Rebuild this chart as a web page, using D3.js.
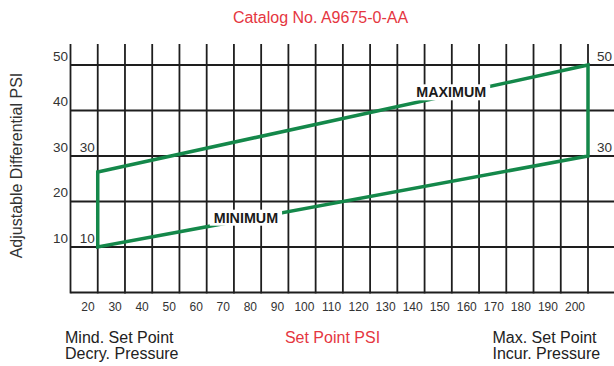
<!DOCTYPE html>
<html>
<head>
<meta charset="utf-8">
<script src="https://cdn.jsdelivr.net/npm/d3@7"></script>
<style>
  body { margin: 0; background: #fff; }
  svg { display: block; font-family: "Liberation Sans", Arial, sans-serif; }
</style>
</head>
<body>
<div id="container"></div>
<script>
// data
const xTicks = [20, 30, 40, 50, 60, 70, 80, 90, 100, 110, 120, 130, 140, 150, 160, 170, 180, 190, 200];
const yTicks = [0, 10, 20, 30, 40, 50];
const yLabels = [10, 20, 30, 40, 50];

// boundary of the adjustable range (set point psi, differential psi)
const maxLine = [[20, 26.5], [200, 50]];
const minLine = [[20, 10], [200, 30]];

const w = 614;
const h = 366;
const green = "#14884a";
const red = "#e5363f";
const ink = "#1e1e1e";

let viz = d3.select("#container")
  .append("svg")
    .attr("width", w)
    .attr("height", h);

let xScale = d3.scaleLinear().domain([10, 200]).range([70.5, 588]);
let yScale = d3.scaleLinear().domain([0, 50]).range([292.5, 65]);
// the printed tick numbers sit a little left of their grid lines
let labelScale = d3.scaleLinear().domain([20, 200]).range([88, 575]);

// title
viz.append("text")
  .attr("x", 320.5).attr("y", 22.5)
  .attr("text-anchor", "middle")
  .attr("font-size", 16)
  .attr("fill", red)
  .text("Catalog No. A9675-0-AA");

// vertical grid lines (they poke up above the 50 line)
let grid = viz.append("g").attr("stroke", ink).attr("stroke-width", 1.8);
grid.selectAll(".vline")
  .data([10].concat(xTicks))
  .enter().append("line")
    .attr("x1", d => xScale(d)).attr("x2", d => xScale(d))
    .attr("y1", 44).attr("y2", yScale(0) + 0.9);

grid.selectAll(".hline")
  .data(yTicks)
  .enter().append("line")
    .attr("x1", xScale(10)).attr("x2", w)
    .attr("y1", d => yScale(d)).attr("y2", d => yScale(d));

// y labels, left of the frame
let lab = viz.append("g").attr("font-size", 13.5).attr("fill", "#333");
lab.selectAll(".yl")
  .data(yLabels)
  .enter().append("text")
    .attr("x", xScale(10) - 2.5)
    .attr("y", d => yScale(d) - 4.3)
    .attr("text-anchor", "end")
    .text(d => d);

// corner values of the range
let corners = [
  {x: xScale(20) - 3, y: yScale(30) - 4.3, t: "30", a: "end"},
  {x: xScale(20) - 3, y: yScale(10) - 4.3, t: "10", a: "end"},
  {x: xScale(200) + 9, y: yScale(50) - 4.3, t: "50", a: "start"},
  {x: xScale(200) + 9, y: yScale(30) - 4.3, t: "30", a: "start"}
];
lab.selectAll(".cl")
  .data(corners)
  .enter().append("text")
    .attr("x", d => d.x).attr("y", d => d.y)
    .attr("text-anchor", d => d.a)
    .text(d => d.t);

// x tick labels
viz.append("g").attr("font-size", 12).attr("fill", "#333")
  .selectAll("text")
  .data(xTicks)
  .enter().append("text")
    .attr("x", d => labelScale(d))
    .attr("y", 311)
    .attr("text-anchor", "middle")
    .text(d => d);

// range outline
let lineMaker = d3.line()
  .x(d => xScale(d[0]))
  .y(d => yScale(d[1]));

let outline = maxLine.concat(minLine.slice().reverse());
viz.append("path")
  .attr("d", lineMaker(outline) + "Z")
  .attr("fill", "none")
  .attr("stroke", green)
  .attr("stroke-width", 3.5)
  .attr("stroke-linejoin", "miter");

// line labels on white boxes
function lineLabel(pts, xv, dy, text) {
  let k = (xv - pts[0][0]) / (pts[1][0] - pts[0][0]);
  let yv = pts[0][1] + k * (pts[1][1] - pts[0][1]);
  let g = viz.append("g");
  let t = g.append("text")
    .attr("x", xScale(xv)).attr("y", yScale(yv) + dy)
    .attr("text-anchor", "middle")
    .attr("font-size", 14.3)
    .attr("font-weight", "bold")
    .attr("fill", "#1a1a1a")
    .text(text);
  let bb = t.node().getBBox();
  g.insert("rect", "text")
    .attr("x", bb.x - 4).attr("y", bb.y)
    .attr("width", bb.width + 8).attr("height", bb.height)
    .attr("fill", "#fff");
}
lineLabel(maxLine, 149.8, 2.5, "MAXIMUM");
lineLabel(minLine, 74.4, 3.2, "MINIMUM");

// axis titles
viz.append("text")
  .attr("transform", "translate(22,165.5) rotate(-90)")
  .attr("text-anchor", "middle")
  .attr("font-size", 16)
  .attr("fill", "#333")
  .text("Adjustable Differential PSI");

viz.append("text")
  .attr("x", 332.5).attr("y", 342.7)
  .attr("text-anchor", "middle")
  .attr("font-size", 16)
  .attr("fill", red)
  .text("Set Point PSI");

let notes = viz.append("g").attr("font-size", 16).attr("fill", "#222");
notes.append("text").attr("x", 65).attr("y", 342.7).text("Mind. Set Point");
notes.append("text").attr("x", 65).attr("y", 359.3).text("Decry. Pressure");
notes.append("text").attr("x", 492.5).attr("y", 342.7).text("Max. Set Point");
notes.append("text").attr("x", 492.5).attr("y", 359.3).text("Incur. Pressure");
</script>
</body>
</html>
